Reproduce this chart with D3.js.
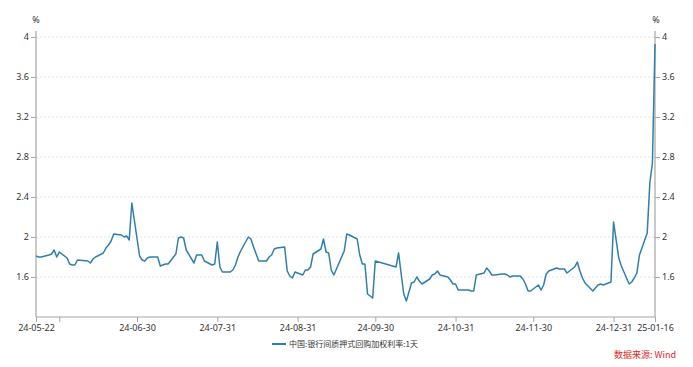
<!DOCTYPE html>
<html>
<head>
<meta charset="utf-8">
<script src="https://cdn.jsdelivr.net/npm/d3@7"></script>
<style>
  body { margin: 0; background: #fff; }
  svg text { font-family: "Noto Sans", "Noto Sans CJK SC", sans-serif; }
</style>
</head>
<body>
<svg id="chart" width="693" height="367"></svg>
<script>
/* ── datos: fechas de negociación y tasa ponderada (%) ── */
const dates = [
  "2024-05-22","2024-05-23","2024-05-24","2024-05-27","2024-05-28","2024-05-29","2024-05-30","2024-05-31",
  "2024-06-03","2024-06-04","2024-06-05","2024-06-06","2024-06-07","2024-06-11","2024-06-12","2024-06-13",
  "2024-06-14","2024-06-17","2024-06-18","2024-06-19","2024-06-20","2024-06-21","2024-06-24","2024-06-25",
  "2024-06-26","2024-06-27","2024-06-28","2024-07-01","2024-07-02","2024-07-03","2024-07-04","2024-07-05",
  "2024-07-08","2024-07-09","2024-07-10","2024-07-11","2024-07-12","2024-07-15","2024-07-16","2024-07-17",
  "2024-07-18","2024-07-19","2024-07-22","2024-07-23","2024-07-24","2024-07-25","2024-07-26","2024-07-29",
  "2024-07-30","2024-07-31","2024-08-01","2024-08-02","2024-08-05","2024-08-06","2024-08-07","2024-08-08",
  "2024-08-09","2024-08-12","2024-08-13","2024-08-14","2024-08-15","2024-08-16","2024-08-19","2024-08-20",
  "2024-08-21","2024-08-22","2024-08-23","2024-08-26","2024-08-27","2024-08-28","2024-08-29","2024-08-30",
  "2024-09-02","2024-09-03","2024-09-04","2024-09-05","2024-09-06","2024-09-09","2024-09-10","2024-09-11",
  "2024-09-12","2024-09-13","2024-09-14","2024-09-18","2024-09-19","2024-09-20","2024-09-23","2024-09-24",
  "2024-09-25","2024-09-26","2024-09-27","2024-09-29","2024-09-30","2024-10-08","2024-10-09","2024-10-10",
  "2024-10-11","2024-10-12","2024-10-14","2024-10-15","2024-10-16","2024-10-17","2024-10-18","2024-10-21",
  "2024-10-22","2024-10-23","2024-10-24","2024-10-25","2024-10-28","2024-10-29","2024-10-30","2024-10-31",
  "2024-11-01","2024-11-04","2024-11-05","2024-11-06","2024-11-07","2024-11-08","2024-11-11","2024-11-12",
  "2024-11-13","2024-11-14","2024-11-15","2024-11-18","2024-11-19","2024-11-20","2024-11-21","2024-11-22",
  "2024-11-25","2024-11-26","2024-11-27","2024-11-28","2024-11-29","2024-12-02","2024-12-03","2024-12-04",
  "2024-12-05","2024-12-06","2024-12-09","2024-12-10","2024-12-11","2024-12-12","2024-12-13","2024-12-16",
  "2024-12-17","2024-12-18","2024-12-19","2024-12-20","2024-12-23","2024-12-24","2024-12-25","2024-12-26",
  "2024-12-27","2024-12-30","2024-12-31","2025-01-02","2025-01-03","2025-01-06","2025-01-07","2025-01-08",
  "2025-01-09","2025-01-10","2025-01-13","2025-01-14","2025-01-15","2025-01-16"
];
const rates = [
  1.81,1.80,1.80,1.82,1.83,1.87,1.80,1.85,
  1.79,1.73,1.72,1.72,1.77,1.76,1.74,1.78,
  1.80,1.84,1.89,1.92,1.96,2.03,2.02,2.00,
  2.01,1.97,2.34,1.81,1.77,1.76,1.79,1.80,
  1.80,1.71,1.72,1.73,1.73,1.83,1.99,2.00,
  1.99,1.87,1.74,1.82,1.82,1.82,1.76,1.72,
  1.73,1.95,1.70,1.65,1.65,1.67,1.72,1.80,
  1.86,2.00,1.98,1.90,1.83,1.76,1.76,1.80,
  1.82,1.88,1.89,1.90,1.66,1.61,1.59,1.65,
  1.62,1.67,1.67,1.70,1.83,1.88,1.98,1.85,
  1.84,1.67,1.62,1.86,2.03,2.02,1.98,1.82,
  1.73,1.73,1.43,1.39,1.76,1.70,1.84,1.63,
  1.43,1.36,1.54,1.55,1.60,1.56,1.53,1.58,
  1.62,1.63,1.66,1.62,1.60,1.57,1.53,1.53,
  1.47,1.47,1.47,1.46,1.46,1.62,1.64,1.69,
  1.66,1.62,1.62,1.63,1.63,1.62,1.60,1.61,
  1.61,1.58,1.53,1.46,1.46,1.52,1.47,1.52,
  1.63,1.66,1.69,1.68,1.68,1.68,1.64,1.70,
  1.75,1.66,1.59,1.54,1.46,1.49,1.52,1.53,
  1.52,1.55,2.15,1.79,1.71,1.53,1.55,1.59,
  1.64,1.82,2.04,2.54,2.74,3.93
];

/* ── ejes ── */
const yTicks = [1.6, 2, 2.4, 2.8, 3.2, 3.6, 4];
const xTicks = ["2024-05-22","2024-05-31","2024-06-30","2024-07-31","2024-08-31",
                "2024-09-30","2024-10-31","2024-11-30","2024-12-31","2025-01-16"];
const xLabels = ["24-05-22","","24-06-30","24-07-31","24-08-31",
                 "24-09-30","24-10-31","24-11-30","24-12-31","25-01-16"];
const unit = "%";
const seriesName = "中国:银行间质押式回购加权利率:1天";
const sourceText = "数据来源: Wind";

const parse = d3.timeParse("%Y-%m-%d");
const data = dates.map((d, i) => ({ date: parse(d), v: rates[i] }));

const svg = d3.select("#chart");
const mLeft = 36, mRight = 655, mTop = 37, mBottom = 317;

const x = d3.scaleTime()
  .domain([parse(dates[0]), parse(dates[dates.length - 1])])
  .range([mLeft, mRight]);

const y = d3.scaleLinear()
  .domain([1.2, 4])
  .range([mBottom, mTop]);

const axisColor = "#a6a6a6";
const textColor = "#333";

/* líneas de cuadrícula */
svg.append("g")
  .selectAll("line")
  .data(yTicks)
  .join("line")
  .attr("x1", mLeft).attr("x2", mRight)
  .attr("y1", d => y(d)).attr("y2", d => y(d))
  .attr("stroke", "#e4e4e4")
  .attr("stroke-width", 1)
  .attr("stroke-dasharray", "2,2");

/* eje izquierdo */
const gL = svg.append("g")
  .attr("transform", `translate(${mLeft},0)`)
  .call(d3.axisLeft(y).tickValues(yTicks).tickSize(5).tickPadding(2)
    .tickFormat(d => String(d)));
gL.select(".domain").attr("d", `M0,${mBottom}V${mTop - 6}`);

/* eje derecho */
const gR = svg.append("g")
  .attr("transform", `translate(${mRight},0)`)
  .call(d3.axisRight(y).tickValues(yTicks).tickSize(5).tickPadding(2)
    .tickFormat(d => String(d)));
gR.select(".domain").attr("d", `M0,${mBottom}V${mTop - 6}`);

/* eje inferior */
const gB = svg.append("g")
  .attr("transform", `translate(0,${mBottom})`)
  .call(d3.axisBottom(x).tickValues(xTicks.map(parse)).tickSize(5).tickPadding(3)
    .tickFormat((d, i) => xLabels[i]));
gB.select(".domain").attr("d", `M${mLeft},0H${mRight}`);

[gL, gR, gB].forEach(g => {
  g.select(".domain").attr("stroke", axisColor).attr("stroke-width", 1.2);
  g.selectAll(".tick line").attr("stroke", axisColor);
  g.selectAll(".tick text")
    .attr("fill", textColor)
    .attr("font-size", "9px")
    .style("font-family", "'Noto Sans', sans-serif");
});

/* unidades */
svg.append("text").attr("x", mLeft).attr("y", 23)
  .attr("text-anchor", "middle").attr("font-size", "9px").attr("fill", textColor).text(unit);
svg.append("text").attr("x", mRight + 1).attr("y", 23)
  .attr("text-anchor", "middle").attr("font-size", "9px").attr("fill", textColor).text(unit);

/* serie */
const line = d3.line().x(d => x(d.date)).y(d => y(d.v));
svg.append("path")
  .datum(data)
  .attr("d", line)
  .attr("fill", "none")
  .attr("stroke", "#2e7fad")
  .attr("stroke-width", 1.5)
  .attr("stroke-linejoin", "round");

/* leyenda */
svg.append("line")
  .attr("x1", 272).attr("x2", 286).attr("y1", 344).attr("y2", 344)
  .attr("stroke", "#2e7fad").attr("stroke-width", 2);
svg.append("text")
  .attr("x", 289).attr("y", 347)
  .attr("font-size", "8px").attr("fill", textColor)
  .style("font-family", "'Noto Sans CJK SC', sans-serif")
  .text(seriesName);

/* fuente */
svg.append("text")
  .attr("x", 676).attr("y", 358)
  .attr("text-anchor", "end")
  .attr("font-size", "9px").attr("fill", "#e0261e")
  .style("font-family", "'Noto Sans CJK SC', sans-serif")
  .text(sourceText);
</script>
</body>
</html>
